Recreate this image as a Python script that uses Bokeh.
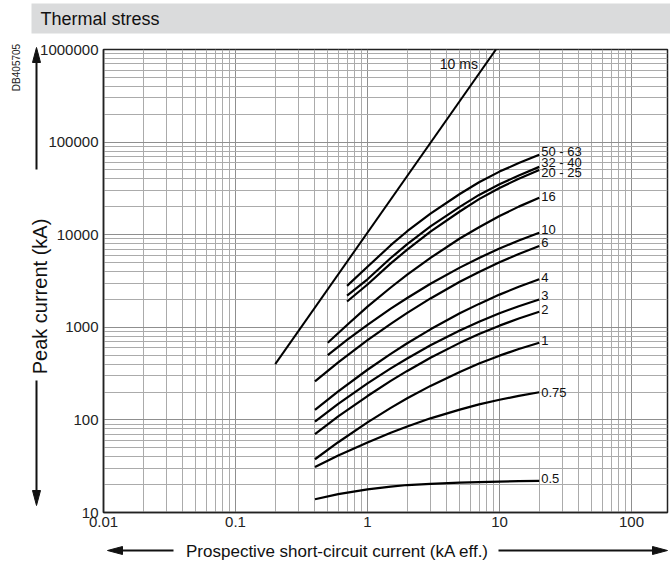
import math
from bokeh.plotting import figure
from bokeh.models import (FixedTicker, BasicTickFormatter, Label, Range1d, ColumnDataSource, GridBox)
from bokeh.core.properties import value
from bokeh.embed import file_html
from bokeh.resources import INLINE

# ---------------- data ----------------
x_ticks = [0.01, 0.1, 1, 10, 100]
x_tick_labels = ["0.01", "0.1", "1", "10", "100"]
y_ticks = [10, 100, 1000, 10000, 100000, 1000000]
y_tick_labels = ["10", "100", "1000", "10000", "100000", "1000000"]

line_10ms_x = [0.2, 9.4]
line_10ms_y = [400, 1000000]
line_10ms_label = "10 ms"

ratings = ["50 - 63", "32 - 40", "20 - 25", "16", "10", "6", "4", "3", "2", "1", "0.75", "0.5"]

# prospective current (kA eff.) sample points
x_large = [0.7, 1, 1.5, 2, 3, 5, 7, 10, 14, 20]
x_mid = [0.5, 0.7, 1, 1.5, 2, 3, 5, 7, 10, 14, 20]
x_small = [0.4, 0.6, 1, 1.5, 2, 3, 5, 7, 10, 14, 20]

y_50_63 = [2800, 4500, 7700, 10900, 16900, 27500, 36800, 48000, 59400, 73000]
y_32_40 = [2200, 3300, 5600, 7900, 12300, 20000, 26900, 35000, 43700, 54000]
y_20_25 = [1900, 2900, 4900, 6900, 10800, 17800, 24200, 32000, 40200, 50000]
y_16 = [680, 1060, 1670, 2690, 3700, 5620, 9100, 12050, 15900, 20100, 25100]
y_10 = [500, 730, 1060, 1590, 2070, 2950, 4410, 5610, 7090, 8660, 10500]
y_6 = [260, 417, 727, 1090, 1430, 2050, 3100, 3960, 5040, 6190, 7550]
y_4 = [128, 203, 348, 517, 672, 951, 1415, 1790, 2254, 2740, 3300]
y_3 = [96, 149, 248, 360, 461, 639, 923, 1148, 1416, 1690, 2000]
y_2 = [70, 109, 181, 264, 338, 469, 679, 845, 1042, 1246, 1475]
y_1 = [37.6, 57.4, 94, 135, 171, 233, 330, 406, 494, 583, 680]
y_075 = [31, 41.2, 57, 72.6, 85, 104, 129, 147, 165, 182, 199]
y_05 = [13.9, 15.8, 17.8, 19.0, 19.8, 20.4, 21, 21.3, 21.6, 21.8, 22]

curves_x = [x_large, x_large, x_large, x_mid, x_mid,
            x_small, x_small, x_small, x_small, x_small, x_small, x_small]
curves_y = [y_50_63, y_32_40, y_20_25, y_16, y_10, y_6, y_4, y_3, y_2, y_1, y_075, y_05]

title_text = "Thermal stress"
doc_ref = "DB405705"
y_label = "Peak current (kA)"
x_label = "Prospective short-circuit current (kA eff.)"

# ---------------- style ----------------
FONT = "Liberation Sans"
W, H = 670, 560
BL, BR, BT, BB = 103, 3, 49, 48
INK = "#111111"

label_dy = [-3, -4, 3, -1, -3, -4, -2, -4, -2, -2, 0, -2]

y_minor = [m * t for t in y_ticks[:-1] for m in range(2, 10)]
x_minor = [m * t for t in x_ticks for m in range(2, 10)]

# ---------- main chart ----------
p = figure(width=W, height=H, x_axis_type="log", y_axis_type="log",
           x_range=Range1d(0.01, 187.4), y_range=Range1d(10, 1000000),
           output_backend="svg", toolbar_location=None,
           min_border_left=BL, min_border_right=BR, min_border_top=BT, min_border_bottom=BB)
p.frame_align = False

p.background_fill_color = "white"
p.border_fill_color = "white"
p.outline_line_color = "#222222"
p.outline_line_width = 1.5

for ax, ticks, labels, minor in ((p.xaxis[0], x_ticks, x_tick_labels, x_minor),
                                 (p.yaxis[0], y_ticks, y_tick_labels, y_minor)):
    ax.ticker = FixedTicker(ticks=ticks, minor_ticks=minor)
    ax.formatter = BasicTickFormatter(use_scientific=False)
    ax.major_label_overrides = dict(zip(ticks, labels))
    ax.major_tick_line_color = None
    ax.minor_tick_line_color = None
    ax.major_tick_out = 0
    ax.major_tick_in = 0
    ax.minor_tick_out = 0
    ax.minor_tick_in = 0
    ax.axis_line_color = "#222222"
    ax.axis_line_width = 1.5
    ax.major_label_text_font = FONT
    ax.major_label_text_font_size = "15px"
    ax.major_label_text_color = "#222222"

p.yaxis.major_label_standoff = 5
p.xaxis.major_label_standoff = 4

for g in (p.xgrid[0], p.ygrid[0]):
    g.grid_line_color = "#8f8f8f"
    g.grid_line_width = 1
    g.minor_grid_line_color = "#ababab"
    g.minor_grid_line_width = 1

p.line(line_10ms_x, line_10ms_y, line_color="black", line_width=2)
for cx, cy in zip(curves_x, curves_y):
    p.line(cx, cy, line_color="black", line_width=2.2, line_join="round")

src = ColumnDataSource(dict(x=[c[-1] for c in curves_x], y=[c[-1] for c in curves_y],
                            t=ratings, dy=label_dy))
p.text(x="x", y="y", text="t", source=src, x_offset=2, y_offset="dy",
       text_font=value(FONT), text_font_size="13px", text_baseline="middle",
       text_align="left", text_color=INK)

p.add_layout(Label(x=line_10ms_x[-1], y=line_10ms_y[-1], text=line_10ms_label,
                   x_offset=-18, y_offset=-14, text_align="right", text_baseline="middle",
                   text_font=FONT, text_font_size="14px", text_color=INK))

# ---------- decoration layer (page pixel coordinates, drawn on top) ----------
d = figure(width=W, height=H, x_range=Range1d(0, W), y_range=Range1d(H, 0),
           x_axis_type=None, y_axis_type=None, output_backend="svg", toolbar_location=None,
           min_border=0)
d.frame_align = False
d.background_fill_alpha = 0
d.border_fill_alpha = 0
d.outline_line_color = None
d.grid.visible = False

# title band
d.quad(left=[31], right=[W], top=[3], bottom=[33], fill_color="#dadbdc", line_color=None)
d.text(x=[40], y=[18], text=[title_text], text_font=value(FONT), text_font_size="18px",
       text_align="left", text_baseline="middle", text_color=INK)

# doc reference (reads bottom to top)
d.text(x=[16], y=[67], text=[doc_ref], angle=math.pi / 2, text_font=value(FONT),
       text_font_size="10px", text_align="center", text_baseline="middle", text_color="#222222")

# axis titles
d.text(x=[39], y=[296], text=[y_label], angle=math.pi / 2, text_font=value(FONT),
       text_font_size="20px", text_align="center", text_baseline="middle", text_color=INK)
d.text(x=[337], y=[551], text=[x_label], text_font=value(FONT),
       text_font_size="17px", text_align="center", text_baseline="middle", text_color=INK)

# arrows: shafts and heads
shafts_x0 = [36, 36, 120, 498]
shafts_y0 = [60, 380, 550, 550]
shafts_x1 = [36, 36, 173, 652]
shafts_y1 = [169, 492, 550, 550]
d.segment(x0=shafts_x0, y0=shafts_y0, x1=shafts_x1, y1=shafts_y1, line_color=INK, line_width=2)

heads_tx = [36, 36, 107, 667]
heads_ty = [47, 505, 550, 550]
heads_dx = [0, 0, -1, 1]
heads_dy = [-1, 1, 0, 0]
L, HW = 15, 4
xs, ys = [], []
for tx, ty, dx, dy in zip(heads_tx, heads_ty, heads_dx, heads_dy):
    bx, by = tx - dx * L, ty - dy * L
    ox, oy = -dy * HW, dx * HW
    xs.append([tx, bx + ox, bx - ox])
    ys.append([ty, by + oy, by - oy])
d.patches(xs=xs, ys=ys, fill_color=INK, line_color=INK, line_width=1)

layout = GridBox(children=[(p, 0, 0), (d, 0, 0)])

open("out.html", "w").write(file_html(layout, INLINE))
